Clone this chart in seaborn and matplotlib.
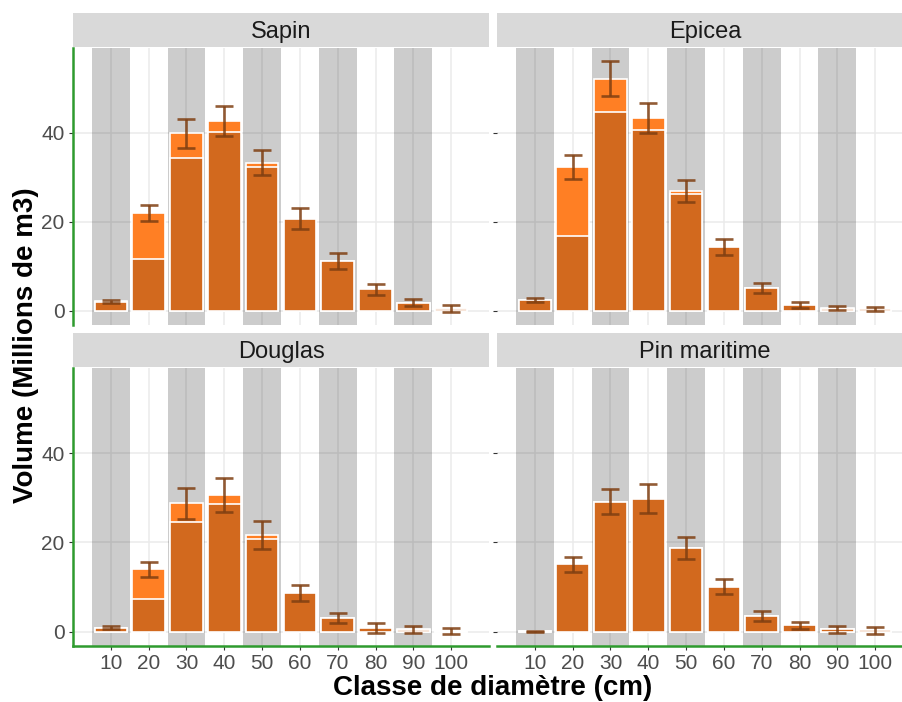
import numpy as np
import pandas as pd
import matplotlib
matplotlib.use("Agg")
import matplotlib.pyplot as plt
import seaborn as sns

sns.set_theme(style="white")
plt.rcParams['font.family'] = ['Liberation Sans', 'DejaVu Sans']

# ---- data ----
classes = [10, 20, 30, 40, 50, 60, 70, 80, 90, 100]
species = ["Sapin", "Epicea", "Douglas", "Pin maritime"]

sapin_total = [2.1, 22.0, 39.9, 42.7, 33.3, 20.7, 11.2, 4.8, 1.8, 0.6]
sapin_dark = [2.0, 11.6, 34.4, 40.2, 32.4, 20.7, 11.2, 4.8, 1.7, 0.5]
sapin_err = [0.3, 1.8, 3.2, 3.3, 2.8, 2.4, 1.8, 1.2, 0.75, 0.8]

epicea_total = [2.5, 32.4, 52.2, 43.3, 27.0, 14.3, 5.1, 1.3, 0.6, 0.3]
epicea_dark = [2.4, 16.9, 44.8, 40.6, 26.3, 14.3, 5.1, 1.2, 0.5, 0.3]
epicea_err = [0.45, 2.7, 4.0, 3.4, 2.45, 1.8, 1.1, 0.75, 0.5, 0.45]

douglas_total = [0.9, 14.0, 28.8, 30.6, 21.7, 8.7, 3.1, 0.9, 0.5, 0.15]
douglas_dark = [0.8, 7.4, 24.6, 28.6, 20.8, 8.7, 3.1, 0.8, 0.4, 0.1]
douglas_err = [0.3, 1.7, 3.5, 3.75, 3.2, 1.85, 1.2, 1.1, 0.7, 0.65]

pin_total = [0.1, 15.1, 29.1, 29.8, 18.7, 10.1, 3.5, 1.4, 0.5, 0.3]
pin_dark = [0.1, 15.1, 29.1, 29.8, 18.7, 10.1, 3.5, 1.4, 0.5, 0.3]
pin_err = [0.1, 1.7, 2.8, 3.2, 2.45, 1.75, 1.1, 0.75, 0.75, 0.75]

totals = [sapin_total, epicea_total, douglas_total, pin_total]
darks = [sapin_dark, epicea_dark, douglas_dark, pin_dark]
errs = [sapin_err, epicea_err, douglas_err, pin_err]

rows = []
for sp, tot, dk, er in zip(species, totals, darks, errs):
    for c, t, d, e in zip(classes, tot, dk, er):
        rows.append(dict(espece=sp, classe=c, total=t, dark=d, err=e))
df = pd.DataFrame(rows)

# ---- style ----
dark_col = "#D2691E"
light_col = "#FF7F24"
err_col = "#7F3F12"
green = "#2E9B2E"
W, H = 902, 702
fig = plt.figure(figsize=(W / 100, H / 100), dpi=100)

def fx(px):
    return px / W

def fy(top, bottom):
    return (H - bottom) / H, (bottom - top) / H

col_x = [73, 497]
col_w = 416
row_panel = [(48, 325), (368, 646)]
row_strip = [(13, 47), (333, 367)]

for i, sp in enumerate(species):
    r, c = divmod(i, 2)
    b, h = fy(*row_panel[r])
    ax = fig.add_axes([fx(col_x[c]), b, fx(col_w), h])
    sb, sh = fy(*row_strip[r])
    sax = fig.add_axes([fx(col_x[c]), sb, fx(col_w), sh])
    sax.set_facecolor("#D9D9D9")
    sax.set_xticks([]); sax.set_yticks([])
    for s in sax.spines.values():
        s.set_visible(False)
    sax.text(0.5, 0.45, sp, ha="center", va="center", fontsize=17,
             color="#1A1A1A", transform=sax.transAxes)

    sub = df[df.espece == sp]
    ax.set_axisbelow(True)
    ax.grid(True, color="#EBEBEB", lw=1.1, zorder=0)
    for k, cl in enumerate(classes):
        if k % 2 == 0:
            ax.axvspan(cl - 5, cl + 5, color="black", alpha=0.2, lw=0, zorder=1)

    sns.barplot(data=sub, x="classe", y="total", native_scale=True, width=0.86,
                color=light_col, saturation=1, edgecolor="white", linewidth=1.2,
                errorbar=None, ax=ax, zorder=2)
    sns.barplot(data=sub, x="classe", y="dark", native_scale=True, width=0.86,
                color=dark_col, saturation=1, edgecolor="white", linewidth=1.2,
                errorbar=None, ax=ax, zorder=3)
    ax.errorbar(sub.classe, sub.total, yerr=sub.err, fmt="none", ecolor=err_col,
                alpha=0.85, elinewidth=1.9, capsize=6.5, capthick=1.9, zorder=4)

    ax.set_xlim(0, 110)
    ax.set_ylim(-3.2, 59.1)
    ax.set_xticks(classes)
    ax.set_yticks([0, 20, 40])
    ax.set_xlabel(""); ax.set_ylabel("")
    for s in ax.spines.values():
        s.set_visible(False)
    ax.tick_params(axis="both", length=3, width=0.8, color="#333333",
                   labelcolor="#4D4D4D", labelsize=15, pad=3)
    if c == 0:
        ax.spines["left"].set_visible(True)
        ax.spines["left"].set_color(green)
        ax.spines["left"].set_linewidth(1.8)
        ax.tick_params(axis="y", left=True, labelleft=True)
    else:
        ax.tick_params(axis="y", left=True, labelleft=False)
    if r == 1:
        ax.spines["bottom"].set_visible(True)
        ax.spines["bottom"].set_color(green)
        ax.spines["bottom"].set_linewidth(1.8)
        ax.tick_params(axis="x", bottom=True, labelbottom=True, pad=2.5)
    else:
        ax.tick_params(axis="x", bottom=False, labelbottom=False)

fig.text(fx(493), (H - 688) / H, "Classe de diamètre (cm)", ha="center", va="center",
         fontsize=20, fontweight="bold", color="black")
fig.text(fx(26), (H - 345) / H, "Volume (Millions de m3)", ha="center", va="center",
         rotation=90, fontsize=20, fontweight="bold", color="black")

fig.savefig("out.png", dpi=100)
